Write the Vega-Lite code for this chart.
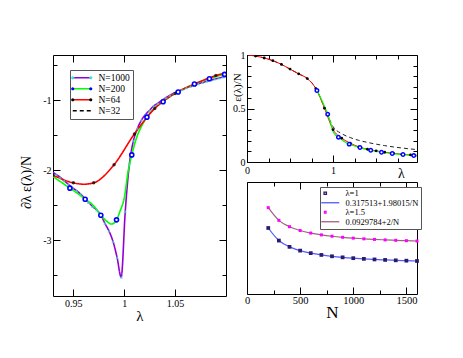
{
  "$schema": "https://vega.github.io/schema/vega-lite/v6.json",
  "background": "white",
  "padding": {"left": 18, "top": 49, "right": 0, "bottom": 0},
  "config": {
    "view": {"stroke": "black", "strokeWidth": 1},
    "font": "Liberation Serif",
    "axis": {"labelFont": "Liberation Serif", "titleFont": "Liberation Serif", "grid": false, "domain": false, "tickColor": "black", "labelColor": "black", "titleColor": "black", "titleFontWeight": "normal", "labelFontSize": 10, "tickWidth": 1, "labelFlush": false, "labelExpr": "'' + datum.value"},
    "legend": {"labelFont": "Liberation Serif", "labelColor": "black"}
  },
  "datasets": {
    "L_lines": [
      {"s":"N=1000","x":0.93,"y":-2.03},{"s":"N=1000","x":0.933,"y":-2.06},{"s":"N=1000","x":0.937,"y":-2.10},{"s":"N=1000","x":0.941,"y":-2.15},{"s":"N=1000","x":0.945,"y":-2.20},{"s":"N=1000","x":0.949,"y":-2.25},{"s":"N=1000","x":0.953,"y":-2.29},{"s":"N=1000","x":0.957,"y":-2.34},{"s":"N=1000","x":0.961,"y":-2.40},{"s":"N=1000","x":0.965,"y":-2.46},{"s":"N=1000","x":0.969,"y":-2.52},{"s":"N=1000","x":0.973,"y":-2.57},{"s":"N=1000","x":0.977,"y":-2.64},{"s":"N=1000","x":0.981,"y":-2.76},{"s":"N=1000","x":0.985,"y":-2.87},{"s":"N=1000","x":0.989,"y":-3.02},{"s":"N=1000","x":0.993,"y":-3.25},{"s":"N=1000","x":0.997,"y":-3.53},{"s":"N=1000","x":1.001,"y":-2.59},{"s":"N=1000","x":1.005,"y":-1.92},{"s":"N=1000","x":1.009,"y":-1.58},{"s":"N=1000","x":1.013,"y":-1.40},{"s":"N=1000","x":1.017,"y":-1.28},{"s":"N=1000","x":1.021,"y":-1.20},{"s":"N=1000","x":1.025,"y":-1.14},{"s":"N=1000","x":1.029,"y":-1.08},{"s":"N=1000","x":1.033,"y":-1.04},{"s":"N=1000","x":1.037,"y":-1.00},{"s":"N=1000","x":1.041,"y":-0.96},{"s":"N=1000","x":1.045,"y":-0.925},{"s":"N=1000","x":1.049,"y":-0.895},{"s":"N=1000","x":1.053,"y":-0.87},{"s":"N=1000","x":1.057,"y":-0.845},{"s":"N=1000","x":1.061,"y":-0.82},{"s":"N=1000","x":1.065,"y":-0.80},{"s":"N=1000","x":1.069,"y":-0.78},{"s":"N=1000","x":1.073,"y":-0.76},{"s":"N=1000","x":1.077,"y":-0.745},{"s":"N=1000","x":1.081,"y":-0.725},{"s":"N=1000","x":1.085,"y":-0.71},{"s":"N=1000","x":1.089,"y":-0.695},{"s":"N=1000","x":1.093,"y":-0.68},{"s":"N=1000","x":1.097,"y":-0.665},{"s":"N=1000","x":1.1,"y":-0.655},
      {"s":"N=200","x":0.93,"y":-2.09},{"s":"N=200","x":0.935,"y":-2.14},{"s":"N=200","x":0.94,"y":-2.19},{"s":"N=200","x":0.9466,"y":-2.256},{"s":"N=200","x":0.955,"y":-2.34},{"s":"N=200","x":0.9616,"y":-2.414},{"s":"N=200","x":0.97,"y":-2.51},{"s":"N=200","x":0.977,"y":-2.645},{"s":"N=200","x":0.982,"y":-2.72},{"s":"N=200","x":0.9874,"y":-2.77},{"s":"N=200","x":0.9924,"y":-2.71},{"s":"N=200","x":0.996,"y":-2.58},{"s":"N=200","x":1.0,"y":-2.40},{"s":"N=200","x":1.004,"y":-2.0},{"s":"N=200","x":1.0074,"y":-1.78},{"s":"N=200","x":1.012,"y":-1.54},{"s":"N=200","x":1.017,"y":-1.37},{"s":"N=200","x":1.0223,"y":-1.24},{"s":"N=200","x":1.03,"y":-1.11},{"s":"N=200","x":1.0382,"y":-1.02},{"s":"N=200","x":1.045,"y":-0.945},{"s":"N=200","x":1.053,"y":-0.88},{"s":"N=200","x":1.06,"y":-0.825},{"s":"N=200","x":1.069,"y":-0.765},{"s":"N=200","x":1.076,"y":-0.725},{"s":"N=200","x":1.0837,"y":-0.69},{"s":"N=200","x":1.091,"y":-0.655},{"s":"N=200","x":1.0986,"y":-0.628},{"s":"N=200","x":1.1,"y":-0.624},
      {"s":"N=64","x":0.93,"y":-2.07},{"s":"N=64","x":0.95,"y":-2.18},{"s":"N=64","x":0.96,"y":-2.20},{"s":"N=64","x":0.97,"y":-2.18},{"s":"N=64","x":0.99,"y":-1.92},{"s":"N=64","x":1.01,"y":-1.48},{"s":"N=64","x":1.03,"y":-1.115},{"s":"N=64","x":1.05,"y":-0.90},{"s":"N=64","x":1.07,"y":-0.76},{"s":"N=64","x":1.09,"y":-0.645},{"s":"N=64","x":1.1,"y":-0.605}
    ],
    "L_m1000": [
      {"m":"1000","x":0.933,"y":-2.06},{"m":"1000","x":0.937,"y":-2.10},{"m":"1000","x":0.941,"y":-2.15},{"m":"1000","x":0.945,"y":-2.20},{"m":"1000","x":0.949,"y":-2.25},{"m":"1000","x":0.953,"y":-2.29},{"m":"1000","x":0.957,"y":-2.34},{"m":"1000","x":0.961,"y":-2.40},{"m":"1000","x":0.965,"y":-2.46},{"m":"1000","x":0.969,"y":-2.52},{"m":"1000","x":0.973,"y":-2.57},{"m":"1000","x":0.977,"y":-2.64},{"m":"1000","x":0.981,"y":-2.76},{"m":"1000","x":0.985,"y":-2.87},{"m":"1000","x":0.989,"y":-3.02},{"m":"1000","x":0.993,"y":-3.25},{"m":"1000","x":0.997,"y":-3.53},{"m":"1000","x":1.001,"y":-2.59},{"m":"1000","x":1.005,"y":-1.92},{"m":"1000","x":1.009,"y":-1.58},{"m":"1000","x":1.013,"y":-1.40},{"m":"1000","x":1.017,"y":-1.28},{"m":"1000","x":1.021,"y":-1.20},{"m":"1000","x":1.025,"y":-1.14},{"m":"1000","x":1.029,"y":-1.08},{"m":"1000","x":1.033,"y":-1.04},{"m":"1000","x":1.037,"y":-1.00},{"m":"1000","x":1.041,"y":-0.96},{"m":"1000","x":1.045,"y":-0.925},{"m":"1000","x":1.049,"y":-0.895},{"m":"1000","x":1.053,"y":-0.87},{"m":"1000","x":1.057,"y":-0.845},{"m":"1000","x":1.061,"y":-0.82},{"m":"1000","x":1.065,"y":-0.80},{"m":"1000","x":1.069,"y":-0.78},{"m":"1000","x":1.073,"y":-0.76},{"m":"1000","x":1.077,"y":-0.745},{"m":"1000","x":1.081,"y":-0.725},{"m":"1000","x":1.085,"y":-0.71},{"m":"1000","x":1.089,"y":-0.695},{"m":"1000","x":1.093,"y":-0.68},{"m":"1000","x":1.097,"y":-0.665}
    ],
    "L_m64": [
      {"m":"64","x":0.93,"y":-2.07},{"m":"64","x":0.95,"y":-2.18},{"m":"64","x":0.97,"y":-2.18},{"m":"64","x":0.99,"y":-1.92},{"m":"64","x":1.01,"y":-1.48},{"m":"64","x":1.03,"y":-1.115},{"m":"64","x":1.05,"y":-0.90},{"m":"64","x":1.07,"y":-0.76},{"m":"64","x":1.09,"y":-0.645}
    ],
    "L_m200": [
      {"x":0.9466,"y":-2.256},{"x":0.9616,"y":-2.414},{"x":0.977,"y":-2.645},{"x":0.9924,"y":-2.71},{"x":1.0074,"y":-1.78},{"x":1.0223,"y":-1.24},{"x":1.0382,"y":-1.02},{"x":1.053,"y":-0.88},{"x":1.069,"y":-0.765},{"x":1.0837,"y":-0.69},{"x":1.0986,"y":-0.628}
    ],
    "TR_n32": [
      {"x":0,"y":1.0},{"x":0.1,"y":0.99},{"x":0.2,"y":0.972},{"x":0.3,"y":0.947},{"x":0.4,"y":0.912},{"x":0.5,"y":0.868},{"x":0.6,"y":0.824},{"x":0.7,"y":0.78},{"x":0.8,"y":0.69},{"x":0.9,"y":0.51},{"x":1.0,"y":0.33},{"x":1.1,"y":0.265},{"x":1.2,"y":0.228},{"x":1.3,"y":0.202},{"x":1.4,"y":0.183},{"x":1.5,"y":0.167},{"x":1.6,"y":0.153},{"x":1.7,"y":0.141},{"x":1.8,"y":0.131},{"x":1.9,"y":0.122},{"x":1.975,"y":0.116}
    ],
    "TR_n64": [
      {"x":0,"y":1.0},{"x":0.1,"y":0.99},{"x":0.2,"y":0.972},{"x":0.3,"y":0.947},{"x":0.4,"y":0.912},{"x":0.5,"y":0.868},{"x":0.6,"y":0.824},{"x":0.7,"y":0.78},{"x":0.8,"y":0.686},{"x":0.9,"y":0.503},{"x":1.0,"y":0.302},{"x":1.1,"y":0.223},{"x":1.2,"y":0.176},{"x":1.3,"y":0.141},{"x":1.4,"y":0.119},{"x":1.5,"y":0.104},{"x":1.6,"y":0.091},{"x":1.7,"y":0.082},{"x":1.8,"y":0.072},{"x":1.9,"y":0.066},{"x":1.975,"y":0.062}
    ],
    "TR_d64": [
      {"x":0,"y":1.0},{"x":0.1,"y":0.99},{"x":0.2,"y":0.972},{"x":0.3,"y":0.947},{"x":0.4,"y":0.912},{"x":0.5,"y":0.868},{"x":0.6,"y":0.824},{"x":0.7,"y":0.78},{"x":0.8,"y":0.686},{"x":0.9,"y":0.503},{"x":1.0,"y":0.302},{"x":1.1,"y":0.223},{"x":1.2,"y":0.176},{"x":1.3,"y":0.141},{"x":1.4,"y":0.119},{"x":1.5,"y":0.104},{"x":1.6,"y":0.091},{"x":1.7,"y":0.082},{"x":1.8,"y":0.072},{"x":1.9,"y":0.066}
    ],
    "TR_n200": [
      {"x":0.8125,"y":0.668},{"x":0.85,"y":0.61},{"x":0.9,"y":0.52},{"x":0.9375,"y":0.447},{"x":0.97,"y":0.37},{"x":1.0,"y":0.285},{"x":1.03,"y":0.25},{"x":1.0625,"y":0.232},{"x":1.125,"y":0.195},{"x":1.1875,"y":0.167},{"x":1.25,"y":0.15},{"x":1.3125,"y":0.135},{"x":1.4375,"y":0.11},{"x":1.5625,"y":0.091},{"x":1.6875,"y":0.079},{"x":1.8125,"y":0.07},{"x":1.9375,"y":0.06},{"x":1.975,"y":0.058}
    ],
    "TR_c200": [
      {"x":0.8125,"y":0.668},{"x":0.9375,"y":0.447},{"x":1.0625,"y":0.232},{"x":1.1875,"y":0.167},{"x":1.3125,"y":0.135},{"x":1.4375,"y":0.11},{"x":1.5625,"y":0.091},{"x":1.6875,"y":0.079},{"x":1.8125,"y":0.07},{"x":1.9375,"y":0.06}
    ],
    "BR_1": [
      {"n":200,"y":0.327414},{"n":300,"y":0.324114},{"n":400,"y":0.322463},{"n":500,"y":0.321473},{"n":600,"y":0.320813},{"n":700,"y":0.320342},{"n":800,"y":0.319988},{"n":900,"y":0.319713},{"n":1000,"y":0.319493},{"n":1100,"y":0.319313},{"n":1200,"y":0.319163},{"n":1300,"y":0.319036},{"n":1400,"y":0.318927},{"n":1500,"y":0.318833},{"n":1600,"y":0.318751}
    ],
    "BR_15": [
      {"n":200,"y":0.102978},{"n":300,"y":0.099645},{"n":400,"y":0.097978},{"n":500,"y":0.096978},{"n":600,"y":0.096312},{"n":700,"y":0.095836},{"n":800,"y":0.095478},{"n":900,"y":0.095201},{"n":1000,"y":0.094978},{"n":1100,"y":0.094797},{"n":1200,"y":0.094645},{"n":1300,"y":0.094517},{"n":1400,"y":0.094407},{"n":1500,"y":0.094312},{"n":1600,"y":0.094228}
    ],
    "BR_leg": [
      {"lab":"λ=1"},{"lab":"0.317513+1.98015/N"},{"lab":"λ=1.5"},{"lab":"0.0929784+2/N"}
    ]
  },
  "bounds": "flush",
  "spacing": 21,
  "resolve": {
    "scale": {"fill": "independent", "stroke": "independent", "shape": "independent", "strokeDash": "independent"},
    "legend": {"fill": "independent", "stroke": "independent", "shape": "independent", "strokeDash": "independent"}
  },
  "hconcat": [
    {
      "width": 173,
      "height": 241,
      "resolve": {"axis": {"x": "independent", "y": "independent"}},
      "layer": [
        {
          "data": {"name": "L_lines"},
          "mark": {"type": "line", "interpolate": "monotone", "strokeWidth": 1.6, "clip": true},
          "encoding": {
            "x": {"field": "x", "type": "quantitative", "scale": {"domain": [0.93, 1.1], "nice": false, "zero": false},
              "axis": {"orient": "bottom", "values": [0.95, 1, 1.05], "tickSize": -7, "labelPadding": 9, "title": "λ", "titleFontSize": 15, "titleY": 19, "titleBaseline": "middle"}},
            "y": {"field": "y", "type": "quantitative", "scale": {"domain": [-3.8, -0.35], "nice": false, "zero": false},
              "axis": {"orient": "left", "values": [-1, -2, -3], "tickSize": -7, "labelPadding": 9, "title": "∂λ ε(λ)/N", "titleFontSize": 14, "titleX": -20, "titleY": 127, "titleBaseline": "bottom", "titleAlign": "center"}},
            "stroke": {"field": "s", "type": "nominal",
              "scale": {"domain": ["N=1000", "N=200", "N=64", "N=32"], "range": ["#9400d3", "#00ff00", "#ff0000", "#000000"]},
              "legend": {"orient": "none", "legendX": 17, "legendY": 15, "title": null, "symbolType": "M-4.5,0H4.5", "symbolSize": 16, "symbolStrokeWidth": 1.6, "symbolOffset": 4, "labelOffset": 12, "labelFontSize": 9.5, "rowPadding": 0, "padding": 3, "strokeColor": "#555"}},
            "strokeDash": {"field": "s", "type": "nominal",
              "scale": {"domain": ["N=1000", "N=200", "N=64", "N=32"], "range": [[1, 0], [1, 0], [1, 0], [4, 3]]}}
          }
        },
        {
          "data": {"name": "L_m1000"},
          "mark": {"type": "point", "shape": "triangle-up", "filled": true, "size": 12, "clip": true},
          "encoding": {
            "x": {"field": "x", "type": "quantitative", "axis": {"orient": "top", "values": [0.95, 1, 1.05], "tickSize": -7, "labels": false, "title": null}},
            "y": {"field": "y", "type": "quantitative", "axis": {"orient": "right", "values": [-1, -2, -3], "tickSize": -7, "labels": false, "title": null}},
            "fill": {"field": "m", "type": "nominal",
              "scale": {"domain": ["1000", "200", "64", "32"], "range": ["#40e0d0", "#0000ff", "#000000", "transparent"]},
              "legend": {"orient": "none", "legendX": 17, "legendY": 15, "title": null, "symbolType": "M-5.3,0a0.8,0.8 0 1,0 1.6,0a0.8,0.8 0 1,0 -1.6,0ZM3.7,0a0.8,0.8 0 1,0 1.6,0a0.8,0.8 0 1,0 -1.6,0Z", "symbolSize": 16, "symbolStrokeWidth": 0, "symbolOffset": 4, "labelOffset": 12, "labelFontSize": 9.5, "labelExpr": "''", "rowPadding": 0, "padding": 3, "symbolOpacity": 1}}
          }
        },
        {
          "data": {"name": "L_m64"},
          "mark": {"type": "point", "shape": "circle", "filled": true, "size": 12, "clip": true},
          "encoding": {
            "x": {"field": "x", "type": "quantitative", "axis": null},
            "y": {"field": "y", "type": "quantitative", "axis": {"orient": "left", "values": [-0.5, -1.5, -2.5, -3.5], "tickSize": -4, "labels": false, "title": null}},
            "fill": {"field": "m", "type": "nominal",
              "scale": {"domain": ["1000", "200", "64", "32"], "range": ["#40e0d0", "#0000ff", "#000000", "transparent"]},
              "legend": {"orient": "none", "legendX": 17, "legendY": 15, "title": null, "symbolType": "M-5.3,0a0.8,0.8 0 1,0 1.6,0a0.8,0.8 0 1,0 -1.6,0ZM3.7,0a0.8,0.8 0 1,0 1.6,0a0.8,0.8 0 1,0 -1.6,0Z", "symbolSize": 16, "symbolStrokeWidth": 0, "symbolOffset": 4, "labelOffset": 12, "labelFontSize": 9.5, "labelExpr": "''", "rowPadding": 0, "padding": 3, "symbolOpacity": 1}}
          }
        },
        {
          "data": {"name": "L_m200"},
          "mark": {"type": "point", "shape": "circle", "filled": false, "fill": "white", "stroke": "#0000ff", "strokeWidth": 1.6, "size": 16, "opacity": 1, "clip": true},
          "encoding": {
            "x": {"field": "x", "type": "quantitative", "axis": null},
            "y": {"field": "y", "type": "quantitative", "axis": {"orient": "right", "values": [-0.5, -1.5, -2.5, -3.5], "tickSize": -4, "labels": false, "title": null}}
          }
        }
      ]
    },
    {
      "bounds": "flush",
      "spacing": 20,
      "resolve": {
        "scale": {"fill": "independent", "stroke": "independent", "shape": "independent", "strokeDash": "independent"},
        "legend": {"fill": "independent", "stroke": "independent", "shape": "independent", "strokeDash": "independent"}
      },
      "vconcat": [
        {
          "width": 170,
          "height": 107,
          "resolve": {"axis": {"x": "independent", "y": "independent"}},
          "layer": [
            {
              "data": {"name": "TR_n32"},
              "mark": {"type": "line", "interpolate": "monotone", "stroke": "#222222", "strokeWidth": 1, "strokeDash": [4, 3], "clip": true},
              "encoding": {
                "x": {"field": "x", "type": "quantitative", "scale": {"domain": [0, 1.975], "nice": false, "zero": false},
                  "axis": {"orient": "bottom", "values": [0, 1], "tickSize": -7, "labelPadding": 10, "title": "λ", "titleFontSize": 14, "titleX": 154, "titleY": 11, "titleBaseline": "middle", "titleAlign": "center"}},
                "y": {"field": "y", "type": "quantitative", "scale": {"domain": [0, 1], "nice": false, "zero": false},
                  "axis": {"orient": "left", "values": [0, 0.5, 1], "tickSize": -7, "labelPadding": 9, "title": "ε(λ)/N", "titleFontSize": 11, "titleX": -5, "titleY": 32, "titleBaseline": "bottom", "titleAlign": "center"}}
              }
            },
            {
              "data": {"name": "TR_n64"},
              "mark": {"type": "line", "interpolate": "monotone", "stroke": "#ff0000", "strokeWidth": 1, "clip": true},
              "encoding": {
                "x": {"field": "x", "type": "quantitative", "axis": {"orient": "bottom", "values": [0.25, 0.5, 0.75, 1.25, 1.5, 1.75], "tickSize": -4, "labels": false, "title": null}},
                "y": {"field": "y", "type": "quantitative", "axis": {"orient": "left", "values": [0.1, 0.2, 0.3, 0.4, 0.6, 0.7, 0.8, 0.9], "tickSize": -4, "labels": false, "title": null}}
              }
            },
            {
              "data": {"name": "TR_n200"},
              "mark": {"type": "line", "interpolate": "monotone", "stroke": "#00ff00", "strokeWidth": 1.2, "clip": true},
              "encoding": {
                "x": {"field": "x", "type": "quantitative", "axis": {"orient": "top", "values": [0, 1], "tickSize": -7, "labels": false, "title": null}},
                "y": {"field": "y", "type": "quantitative", "axis": {"orient": "right", "values": [0, 0.5, 1], "tickSize": -7, "labels": false, "title": null}}
              }
            },
            {
              "data": {"name": "TR_d64"},
              "mark": {"type": "point", "shape": "circle", "filled": true, "fill": "#000000", "size": 8, "opacity": 1, "clip": true},
              "encoding": {
                "x": {"field": "x", "type": "quantitative", "axis": {"orient": "top", "values": [0.25, 0.5, 0.75, 1.25, 1.5, 1.75], "tickSize": -4, "labels": false, "title": null}},
                "y": {"field": "y", "type": "quantitative", "axis": {"orient": "right", "values": [0.1, 0.2, 0.3, 0.4, 0.6, 0.7, 0.8, 0.9], "tickSize": -4, "labels": false, "title": null}}
              }
            },
            {
              "data": {"name": "TR_c200"},
              "mark": {"type": "point", "shape": "circle", "filled": false, "fill": "white", "stroke": "#0000ff", "strokeWidth": 1.5, "size": 12, "opacity": 1, "clip": true},
              "encoding": {
                "x": {"field": "x", "type": "quantitative", "axis": null},
                "y": {"field": "y", "type": "quantitative", "axis": null}
              }
            }
          ]
        },
        {
          "width": 170,
          "height": 112,
          "resolve": {"scale": {"y": "independent"}, "axis": {"x": "independent", "y": "independent"}},
          "layer": [
            {
              "data": {"name": "BR_1"},
              "mark": {"type": "line", "interpolate": "monotone", "stroke": "#4b5bff", "strokeWidth": 1.2},
              "encoding": {
                "x": {"field": "n", "type": "quantitative", "scale": {"domain": [0, 1600], "nice": false, "zero": false},
                  "axis": {"orient": "bottom", "values": [0, 500, 1000, 1500], "tickSize": -7, "labelPadding": 8, "labelFontSize": 10.5, "title": "N", "titleFontSize": 17, "titleY": 18, "titleBaseline": "middle"}},
                "y": {"field": "y", "type": "quantitative", "scale": {"domain": [0.310091, 0.339481], "nice": false, "zero": false}, "axis": null}
              }
            },
            {
              "data": {"name": "BR_1"},
              "mark": {"type": "point", "shape": "square", "filled": true, "fill": "#2b1a6b", "size": 14, "opacity": 1},
              "encoding": {
                "x": {"field": "n", "type": "quantitative", "axis": {"orient": "bottom", "values": [250, 750, 1250], "tickSize": -4, "labels": false, "title": null}},
                "y": {"field": "y", "type": "quantitative", "scale": {"domain": [0.310091, 0.339481], "nice": false, "zero": false}, "axis": null}
              }
            },
            {
              "data": {"name": "BR_15"},
              "mark": {"type": "line", "interpolate": "monotone", "stroke": "#a0607f", "strokeWidth": 1.2},
              "encoding": {
                "x": {"field": "n", "type": "quantitative", "axis": {"orient": "top", "values": [0, 500, 1000, 1500], "tickSize": -7, "labels": false, "title": null}},
                "y": {"field": "y", "type": "quantitative", "scale": {"domain": [0.080321, 0.109711], "nice": false, "zero": false}, "axis": null}
              }
            },
            {
              "data": {"name": "BR_15"},
              "mark": {"type": "point", "shape": "square", "filled": true, "fill": "#ff00ff", "size": 9, "opacity": 1},
              "encoding": {
                "x": {"field": "n", "type": "quantitative", "axis": {"orient": "top", "values": [250, 750, 1250], "tickSize": -4, "labels": false, "title": null}},
                "y": {"field": "y", "type": "quantitative", "scale": {"domain": [0.080321, 0.109711], "nice": false, "zero": false}, "axis": null}
              }
            },
            {
              "data": {"name": "BR_leg"},
              "mark": {"type": "point", "filled": true, "opacity": 0},
              "encoding": {
                "fill": {"field": "lab", "type": "nominal",
                  "scale": {"domain": ["λ=1", "0.317513+1.98015/N", "λ=1.5", "0.0929784+2/N"], "range": ["#2b1a6b", "transparent", "#ff00ff", "transparent"]},
                  "legend": {"orient": "none", "legendX": 73, "legendY": 5, "title": null, "symbolSize": 16, "symbolStrokeWidth": 1.3, "symbolOffset": 4, "labelOffset": 11, "labelFontSize": 8.5, "rowPadding": 0.5, "padding": 2, "strokeColor": "#555", "fillColor": "white", "symbolOpacity": 1}},
                "stroke": {"field": "lab", "type": "nominal",
                  "scale": {"domain": ["λ=1", "0.317513+1.98015/N", "λ=1.5", "0.0929784+2/N"], "range": ["#2b1a6b", "#4b5bff", "#ff00ff", "#a0607f"]}},
                "shape": {"field": "lab", "type": "nominal",
                  "scale": {"domain": ["λ=1", "0.317513+1.98015/N", "λ=1.5", "0.0929784+2/N"], "range": ["M-3.1,-0.6H-1.9V0.6H-3.1Z", "M-4.5,0H4.5", "M-2.9,-0.4H-2.1V0.4H-2.9Z", "M-4.5,0H4.5"]}}
              }
            }
          ]
        }
      ]
    }
  ]
}
